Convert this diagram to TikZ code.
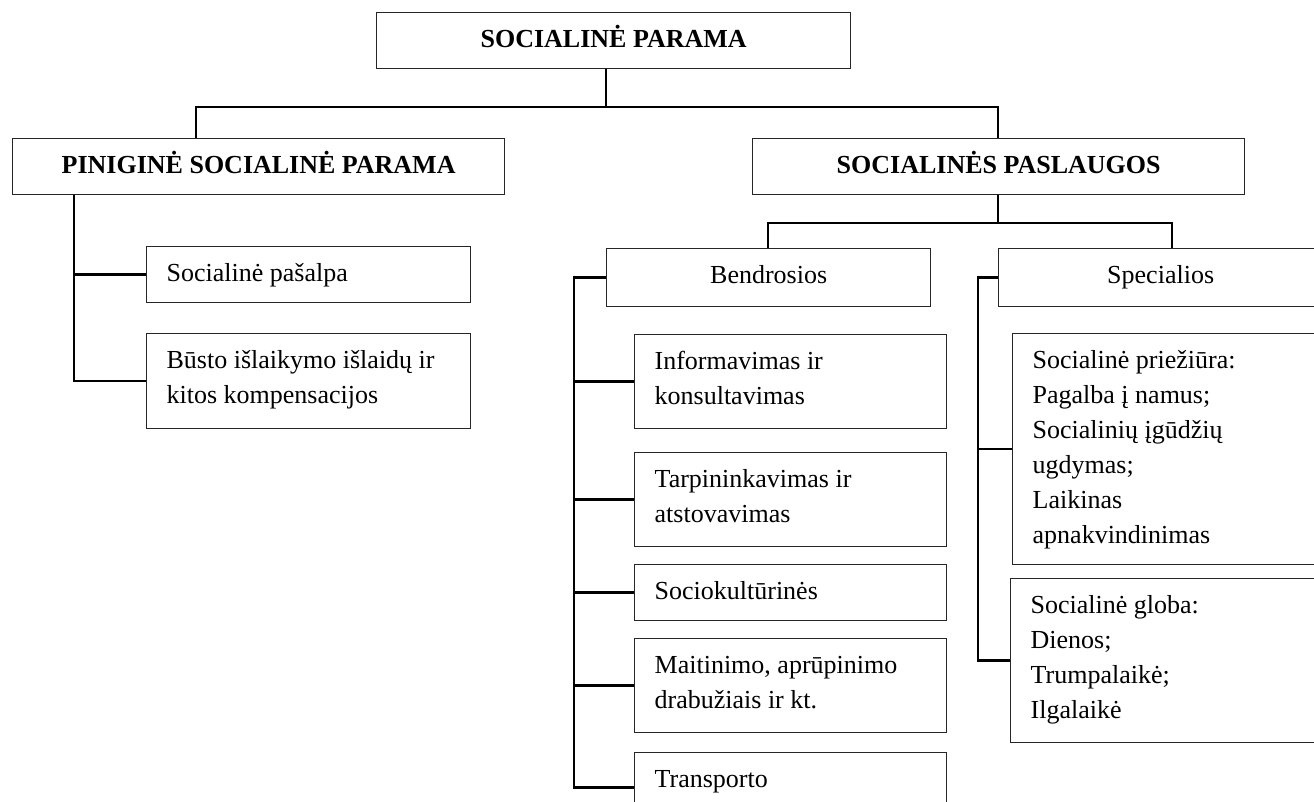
\documentclass[tikz,border=0pt]{standalone}
\usepackage{fontspec}
\setmainfont{Liberation Serif}
% fixed-size cell: width, height, alignment, text (first baseline 35pt below the top)
\newcommand{\cellbox}[4]{\parbox[c][#2][t]{#1}{#3\rule{0pt}{35pt}#4}}
\begin{document}
\begin{tikzpicture}[x=1pt,y=-1pt,
  box/.style={draw=black!85, line width=1.3pt, inner xsep=20pt, inner ysep=0pt,
    anchor=north west, font=\fontsize{26pt}{35pt}\selectfont},
  head/.style={box, font=\fontsize{26pt}{35pt}\selectfont\bfseries},
  conn/.style={line width=2.6pt, black}]
\fill[white] (0,0) rectangle (1314,802);
\useasboundingbox (0,0) rectangle (1314,802);

% top levels
\node[head] (root) at (376,12)  {\cellbox{434pt}{56pt}{\centering}{SOCIALINĖ PARAMA}};
\node[head] (pin)  at (12,138)  {\cellbox{452pt}{56pt}{\centering}{PINIGINĖ SOCIALINĖ PARAMA}};
\node[head] (pasl) at (752,138) {\cellbox{452pt}{56pt}{\centering}{SOCIALINĖS PASLAUGOS}};

% cash support
\node[box] (pasalpa) at (146,246) {\cellbox{284pt}{56pt}{\raggedright}{Socialinė pašalpa}};
\node[box] (busto)   at (146,333) {\cellbox{284pt}{95pt}{\raggedright}{Būsto išlaikymo išlaidų ir\\kitos kompensacijos}};

% services
\node[box] (bend) at (606,248) {\cellbox{284pt}{58pt}{\centering}{Bendrosios}};
\node[box] (spec) at (998,248) {\cellbox{284pt}{58pt}{\centering}{Specialios}};

\node[box] (info)  at (634,334) {\cellbox{272pt}{94pt}{\raggedright}{Informavimas ir\\konsultavimas}};
\node[box] (tarp)  at (634,452) {\cellbox{272pt}{94pt}{\raggedright}{Tarpininkavimas ir\\atstovavimas}};
\node[box] (socio) at (634,564) {\cellbox{272pt}{56pt}{\raggedright}{Sociokultūrinės}};
\node[box] (mait)  at (634,638) {\cellbox{272pt}{94pt}{\raggedright}{Maitinimo, aprūpinimo\\drabužiais ir kt.}};
\node[box] (trans) at (634,752) {\cellbox{272pt}{70pt}{\raggedright}{Transporto}};

\node[box] (priez) at (1012,333) {\cellbox{270pt}{231pt}{\raggedright}{Socialinė priežiūra:\\Pagalba į namus;\\Socialinių įgūdžių\\ugdymas;\\Laikinas\\apnakvindinimas}};
\node[box] (globa) at (1010,578) {\cellbox{272pt}{164pt}{\raggedright}{Socialinė globa:\\Dienos;\\Trumpalaikė;\\Ilgalaikė}};

% bus points
\coordinate (busL) at (196,107);
\coordinate (busM) at (606,107);
\coordinate (busR) at (998,107);
\coordinate (subL) at (768,223);
\coordinate (subR) at (1172,223);
\coordinate (pinx) at (74,0);
\coordinate (bendx) at (574,0);
\coordinate (specx) at (978,0);

% connectors
\draw[conn] (root.south -| busM) -- (busM);
\draw[conn] (pin.north -| busL) -- (busL) -- (busR) -- (pasl.north -| busR);

\draw[conn] (pin.south -| pinx) |- (busto.west);
\draw[conn] (pinx |- pasalpa.west) -- (pasalpa.west);

\draw[conn] (pasl.south -| busR) -- (busR |- subL);
\draw[conn] (bend.north -| subL) -- (subL) -- (subR) -- (spec.north -| subR);

\draw[conn] (bend.west) -- (bendx |- bend.west) |- (trans.west);
\foreach \b in {info,tarp,socio,mait}
  \draw[conn] (bendx |- \b.west) -- (\b.west);

\draw[conn] (spec.west) -- (specx |- spec.west) |- (globa.west);
\draw[conn] (specx |- priez.west) -- (priez.west);
\end{tikzpicture}
\end{document}
